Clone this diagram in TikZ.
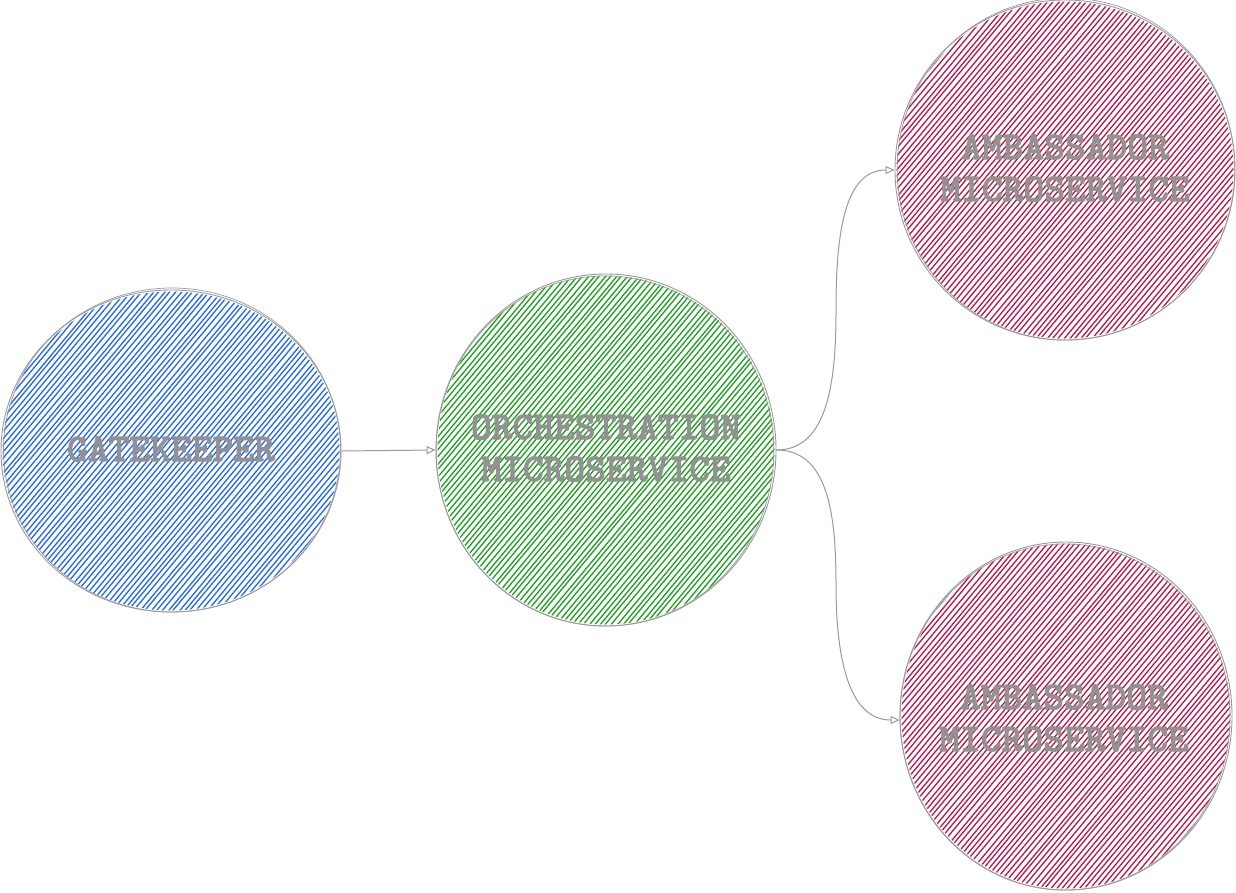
\documentclass[tikz,border=0pt]{standalone}
\usepackage{fontspec}
\newfontfamily\labelfont{lmmonolt10-bold.otf}[FakeBold=2.2]
\usetikzlibrary{shapes.geometric,arrows.meta}
\definecolor{hblue}{HTML}{1F66FF}
\definecolor{hgreen}{HTML}{1AA01A}
\definecolor{hred}{HTML}{BE1446}
\definecolor{lgray}{HTML}{999999}
\definecolor{tgray}{HTML}{929292}
\newcommand\hatchfill[5]{%
  \begin{scope}
    \clip (#1,#2) ellipse [x radius=#3-1.5, y radius=#4-1.5];
    \pgfmathsetmacro\hh{(2*#4+20)/1.2}
    \pgfmathsetmacro\hstart{#1-#3-\hh}
    \pgfmathsetmacro\hnext{\hstart+5.6}
    \pgfmathsetmacro\hstop{#1+#3}
    \foreach \a in {\hstart,\hnext,...,\hstop}{
      \draw[#5, line width=1.3pt, line cap=round]
        (\a+rand*0.9, #2+#4+10) -- (\a+\hh+rand*0.9, #2-#4-10);
    }
  \end{scope}}
\tikzset{
  circ/.style={ellipse, draw=lgray, line width=0.9pt, inner sep=0pt},
  lbl/.style={text=tgray, font=\labelfont\fontsize{39.6}{42}\selectfont,
    align=center, inner sep=0pt},
  sketch/.style={draw=lgray, line width=0.7pt},
  conn/.style={draw=lgray, line width=1pt, -{Triangle[open,length=9pt,width=8pt]}}
}
\begin{document}
\begin{tikzpicture}[x=1pt,y=-1pt]
\useasboundingbox (0,0) rectangle (1236,892);
\pgfmathsetseed{7}
% hatching
\hatchfill{171}{451}{170}{161}{hblue}
\hatchfill{606}{450}{170}{176}{hgreen}
\hatchfill{1065}{170}{170}{170}{hred}
\hatchfill{1066}{716}{166}{174}{hred}
% sketchy second outlines
\draw[sketch] (172,450) ellipse [x radius=168.5, y radius=162];
\draw[sketch] (605,451) ellipse [x radius=168.8, y radius=175];
\draw[sketch] (1066,169) ellipse [x radius=168.8, y radius=171];
\draw[sketch] (1065,717) ellipse [x radius=165, y radius=173];
% nodes
\node[circ, minimum width=340pt, minimum height=322pt] (gk) at (171,451) {};
\node[circ, minimum width=340pt, minimum height=352pt] (orch) at (606,450) {};
\node[circ, minimum width=340pt, minimum height=340pt] (amb1) at (1065,170) {};
\node[circ, minimum width=332pt, minimum height=348pt] (amb2) at (1066,716) {};
\node[lbl] (gkT) at (171,449) {GATEKEEPER};
\node[lbl] (orchT) at (606,448) {ORCHESTRATION\\MICROSERVICE};
\node[lbl] (amb1T) at (1065,168) {AMBASSADOR\\MICROSERVICE};
\node[lbl] (amb2T) at (1064,718) {AMBASSADOR\\MICROSERVICE};
% connectors
\coordinate (m1) at (836,310);
\coordinate (m2) at (836,585);
\draw[conn] (gk.east) -- (orch.west);
\draw[conn] (orch.east) .. controls +(52,0) and +(0,70) .. (m1)
  .. controls +(0,-70) and +(-52,0) .. (amb1.west);
\draw[conn] (orch.east) .. controls +(52,0) and +(0,-70) .. (m2)
  .. controls +(0,70) and +(-52,0) .. ([yshift=-4pt]amb2.west);
\end{tikzpicture}
\end{document}
